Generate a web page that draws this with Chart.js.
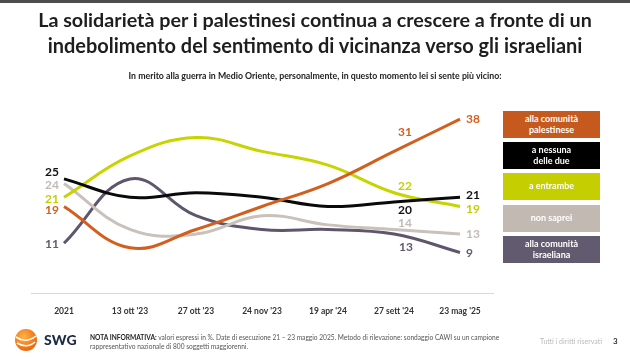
<!DOCTYPE html>
<html>
<head>
<meta charset="utf-8">
<script src="https://cdn.jsdelivr.net/npm/chart.js@4.4.1/dist/chart.umd.min.js"></script>
<style>
  html, body { margin:0; padding:0; background:#fff; }
  body { width:630px; height:357px; position:relative; overflow:hidden; font-family: Lato, "Open Sans", sans-serif; }
  #topbar { position:absolute; left:0; top:0; width:630px; height:3px; background:#4d4d4d; }
  #chartWrap { position:absolute; left:0; top:0; width:630px; height:357px; }
  .title { position:absolute; left:0; width:630px; text-align:center; font-weight:700; color:#1e1e1e; white-space:nowrap; }
  .title span { display:inline-block; }
  #sub { position:absolute; left:0; width:630px; text-align:center; font-weight:700; color:#222; white-space:nowrap; font-size:8px; top:70px; }
  .lg { position:absolute; left:503px; width:97px; height:27px; color:#fff; font-weight:700; font-size:9px; line-height:10.5px;
        display:flex; align-items:center; justify-content:center; text-align:center; }
  #logo { position:absolute; left:14px; top:328px; }
  #swg { position:absolute; left:44px; top:331px; font-weight:900; font-size:14px; color:#1d2a45; letter-spacing:0.2px; }
  #nota { position:absolute; left:90px; top:333px; font-size:6.6px; line-height:9px; color:#555; white-space:nowrap; }
  #nota b { color:#222; }
  #rights { position:absolute; left:540px; top:337px; font-size:7px; color:#bbb; white-space:nowrap; }
  #page { position:absolute; left:613px; top:336px; font-size:8px; font-weight:700; color:#333; }
</style>
</head>
<body>
<div id="chartWrap"><canvas id="c" width="630" height="357"></canvas></div>
<div id="topbar"></div>
<div class="title" id="t1" style="top:8px"><span>La solidarietà per i palestinesi continua a crescere a fronte di un</span></div>
<div class="title" id="t2" style="top:33px"><span>indebolimento del sentimento di vicinanza verso gli israeliani</span></div>
<div id="sub"><span>In merito alla guerra in Medio Oriente, personalmente, in questo momento lei si sente più vicino:</span></div>

<div class="lg" style="top:111px;background:#c65a1e">alla comunità<br>palestinese</div>
<div class="lg" style="top:142px;background:#000">a nessuna<br>delle due</div>
<div class="lg" style="top:173px;background:#c4ce00">a entrambe</div>
<div class="lg" style="top:205px;background:#c2b9b3">non saprei</div>
<div class="lg" style="top:236px;background:#625a6e">alla comunità<br>israeliana</div>

<svg id="logo" width="24" height="24" viewBox="0 0 24 24">
  <defs><radialGradient id="g" cx="40%" cy="35%" r="70%"><stop offset="0" stop-color="#ffb347"/><stop offset="1" stop-color="#e8620c"/></radialGradient></defs>
  <circle cx="12" cy="12" r="11" fill="url(#g)"/>
  <path d="M2 9 Q12 16 22 8" stroke="#fff" stroke-width="1.6" fill="none"/>
  <path d="M3 15 Q13 21 21 14" stroke="#fff" stroke-width="1.6" fill="none"/>
</svg>
<div id="swg">SWG</div>
<div id="nota"><b>NOTA INFORMATIVA:</b> valori espressi in %. Date di esecuzione 21 – 23 maggio 2025. Metodo di rilevazione: sondaggio CAWI su un campione<br>rappresentativo nazionale di 800 soggetti maggiorenni.</div>
<div id="rights">Tutti i diritti riservati</div>
<div id="page">3</div>

<script>
// ---- DATA ----
const categories = ['2021', "13 ott '23", "27 ott '23", "24 nov '23", "19 apr '24", "27 sett '24", "23 mag '25"];
const palestinese = [19, 10, 14, 19, 24, 31, 38];
const nessuna     = [25, 21, 22, 21, 19, 20, 21];
const entrambe    = [21, 30, 34, 31, 28, 22, 19];
const nonSaprei   = [24, 14, 13, 17, 15, 14, 13];
const israeliana  = [11, 25, 17, 14, 14, 13, 9];

// ---- fit title widths ----
function fit(id, target) {
  const el = document.querySelector('#' + id + ' span');
  let fs = 20; el.style.fontSize = fs + 'px';
  const w = el.getBoundingClientRect().width;
  el.parentNode.style.fontSize = (fs * target / w) + 'px';
  el.style.fontSize = '';
}
fit('t1', 554); fit('t2', 535); fit('sub', 373);

// ---- styles ----
const colors = ['#d35f1e', '#0a0a0a', '#c8d400', '#c9c1ba', '#5f566e'];
const labelColors = ['#d35f1e', '#111', '#c4ce00', '#c3bab3', '#625a6e'];
const offFirst = [4, -7, 2, 1.5, 1];
const offSett  = [[11, -19], [11, 8.5], [11, -7], [11, -6], [12, 13]];
const offLast  = [0, -2, 2.5, 0, 1];

const labelPlugin = {
  id: 'vals',
  afterDatasetsDraw(chart) {
    const ctx = chart.ctx;
    ctx.save();
    ctx.font = '700 12px Lato';
    ctx.textBaseline = 'middle';
    chart.data.datasets.forEach((ds, di) => {
      const meta = chart.getDatasetMeta(di);
      ctx.fillStyle = labelColors[di];
      const p0 = meta.data[0];
      ctx.textAlign = 'right';
      ctx.fillText(String(ds.data[0]), p0.x - 5, p0.y + offFirst[di]);
      const p5 = meta.data[5];
      ctx.textAlign = 'center';
      ctx.fillText(String(ds.data[5]), p5.x + offSett[di][0], p5.y + offSett[di][1]);
      const p6 = meta.data[6];
      ctx.textAlign = 'left';
      ctx.fillText(String(ds.data[6]), p6.x + 6, p6.y + offLast[di]);
    });
    ctx.restore();
  }
};

const mk = (label, data, i) => ({
  label, data, borderColor: colors[i], backgroundColor: colors[i],
  borderWidth: 3, pointRadius: 0, tension: 0.4, fill: false
});

new Chart(document.getElementById('c'), {
  type: 'line',
  data: {
    labels: categories,
    datasets: [
      mk('alla comunità palestinese', palestinese, 0),
      mk('a nessuna delle due', nessuna, 1),
      mk('a entrambe', entrambe, 2),
      mk('non saprei', nonSaprei, 3),
      mk('alla comunità israeliana', israeliana, 4)
    ]
  },
  options: {
    responsive: false,
    animation: false,
    devicePixelRatio: 1,
    layout: { padding: { left: 31, right: 137, top: 110, bottom: 29 } },
    plugins: { legend: { display: false }, tooltip: { enabled: false } },
    scales: {
      x: {
        offset: true,
        grid: { display: false, drawTicks: false },
        border: { display: true, color: '#d9d9d9', width: 1 },
        ticks: { color: '#333', font: { family: 'Lato', weight: '700', size: 8.5 }, padding: 12, maxRotation: 0, autoSkip: false }
      },
      y: { display: false, min: 0, max: 40 }
    }
  },
  plugins: [labelPlugin]
});
</script>
</body>
</html>
